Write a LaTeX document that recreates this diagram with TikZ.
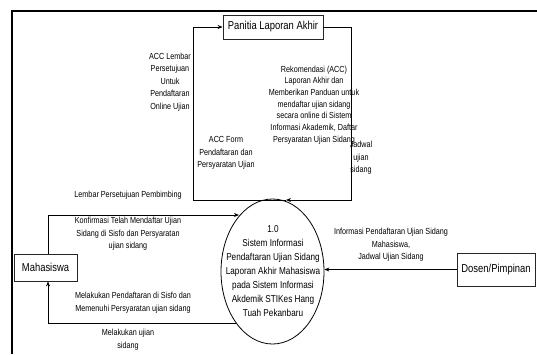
\documentclass[tikz,border=0pt]{standalone}
\usepackage{fontspec}
\setmainfont{Liberation Sans}[FakeStretch=0.82]
\usetikzlibrary{arrows.meta,shapes.geometric}

\tikzset{
  entity/.style={draw=black!85, line width=0.8pt, fill=white, inner sep=0pt,
                 font=\fontsize{11.5}{13}\selectfont},
  process/.style={ellipse, draw=black, line width=0.8pt, inner sep=0pt,
                  minimum width=103pt, minimum height=145pt},
  flow/.style={draw=black, line width=0.8pt,
               -{Stealth[length=5pt,width=4pt]}},
  link/.style={draw=black, line width=0.8pt},
  lbl/.style={align=center, inner sep=0pt,
              font=\fontsize{8.8}{12.6}\selectfont},
  lblsmall/.style={align=center, inner sep=0pt,
              font=\fontsize{8.8}{11.7}\selectfont},
  frame/.style={draw=black, line width=1.6pt}
}

\begin{document}
\begin{tikzpicture}[x=1pt, y=-1pt]
  \useasboundingbox (0,0) rectangle (537,354);

  % page frame (top and left edges)
  \draw[frame] (12,354) -- (12,11) -- (537,11);

  % external entities and the process
  \node[entity, minimum width=100pt, minimum height=24pt] (panitia) at (273,27) {Panitia Laporan Akhir};
  \node[entity, minimum width=63pt, minimum height=27pt] (mhs) at (45.5,267.5) {Mahasiswa};
  \node[entity, minimum width=78pt, minimum height=33pt] (dosen) at (496,269.5) {Dosen/Pimpinan};
  \node[process] (proc) at (272.5,271.5) {};
  \node[align=center, inner sep=0pt, font=\fontsize{10}{14}\selectfont] (proctext) at (273,271)
    {1.0\\Sistem Informasi\\Pendaftaran Ujian Sidang\\Laporan Akhir Mahasiswa\\pada Sistem Informasi\\Akdemik STIKes Hang\\Tuah Pekanbaru};

  % routing points
  \coordinate (ptop) at (286,200);
  \coordinate (rturn) at (351,200);
  \coordinate (lturn) at (193,200);
  \coordinate (kin) at (239,215);
  \coordinate (bout) at (236,323);
  \coordinate (mx) at (48,0);

  % flows
  \draw[flow] (panitia.east) -| (rturn) -- (ptop);
  \draw[flow] (ptop) -- (lturn) |- (panitia.west);
  \draw[flow] (mhs.north -| mx) |- (kin);
  \draw[flow] (bout) -| (mhs.south -| mx);
  \draw[flow] (dosen.west) -- (dosen.west -| proc.east);

  % flow labels
  \node[lbl] (l1) at (170,82) {ACC Lembar\\Persetujuan\\Untuk\\Pendaftaran\\Online Ujian};
  \node[lbl] (l2) at (226,153) {ACC Form\\Pendaftaran dan\\Persyaratan Ujian};
  \node[lblsmall] (l3) at (314,105) {Rekomendasi (ACC)\\Laporan Akhir dan\\Memberikan Panduan untuk\\mendaftar ujian sidang\\secara online di Sistem\\Informasi Akademik, Daftar\\Persyaratan Ujian Sidang};
  \node[lbl] (l4) at (361,158) {Jadwal\\ujian\\sidang};
  \node[lbl] (l5) at (128,195) {Lembar Persetujuan Pembimbing};
  \node[lbl] (l6) at (128,234) {Konfirmasi Telah Mendaftar Ujian\\Sidang di Sisfo dan Persyaratan\\ujian sidang};
  \node[lbl] (l7) at (133,302.5) {Melakukan Pendaftaran di Sisfo dan\\Memenuhi Persyaratan ujian sidang};
  \node[lbl] (l8) at (128,339.5) {Melakukan ujian\\sidang};
  \node[lbl] (l9) at (391,245) {Informasi Pendaftaran Ujian Sidang\\Mahasiswa,\\Jadwal Ujian Sidang};
\end{tikzpicture}
\end{document}
